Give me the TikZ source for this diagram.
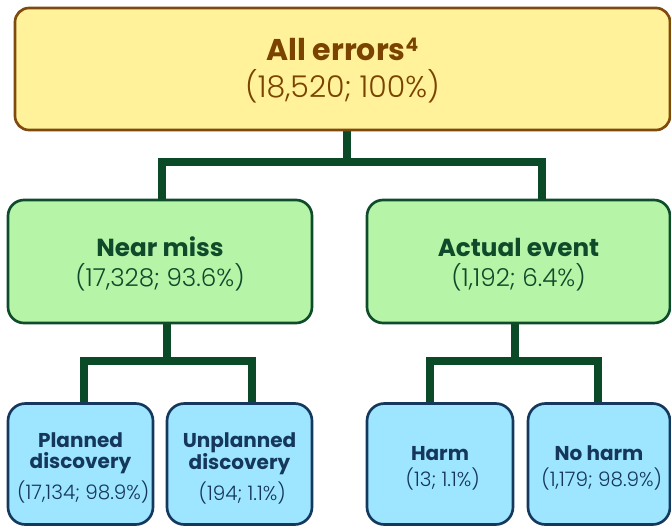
\documentclass[tikz,border=0pt]{standalone}
\usepackage{fontspec}
\setmainfont{Poppins}
\newfontfamily\lightfont{Poppins Light}
\usetikzlibrary{backgrounds}

\definecolor{rootfill}{HTML}{FFF29B}
\definecolor{rootline}{HTML}{7F4A0E}
\definecolor{roottext}{HTML}{7A4300}
\definecolor{midfill}{HTML}{B6F4A8}
\definecolor{midline}{HTML}{0F4C2C}
\definecolor{midtext}{HTML}{0F4A2A}
\definecolor{leaffill}{HTML}{9EE6FF}
\definecolor{leafline}{HTML}{15395E}
\definecolor{leaftext}{HTML}{15375B}
\definecolor{linkcol}{HTML}{0B4A27}

\newcommand\numfont[1]{\lightfont\fontsize{#1}{#1}\selectfont}
% invisible strut that sets the height of a first text line
\newcommand\toprule[1]{\rule{0pt}{#1}}

\tikzset{
  box/.style={draw, line width=2pt, align=center, inner sep=0pt},
  rootbox/.style={box, fill=rootfill, draw=rootline, text=roottext,
    rounded corners=10.5pt, minimum width=491.25pt, minimum height=91.5pt,
    font=\fontsize{22.5}{27.75}\selectfont},
  midbox/.style={box, fill=midfill, draw=midline, text=midtext,
    rounded corners=12pt, minimum width=228pt, minimum height=92.25pt,
    font=\fontsize{18.5}{22.5}\selectfont},
  leafbox/.style={box, fill=leaffill, draw=leafline, text=leaftext,
    rounded corners=13pt, minimum width=108.75pt, minimum height=90.75pt,
    font=\fontsize{15}{15.75}\selectfont},
  link/.style={draw=linkcol, line width=6pt, line join=miter}
}

\begin{document}
\begin{tikzpicture}[x=0.75pt,y=-0.75pt]
\useasboundingbox (0,0) rectangle (671,525);

% boxes
\node[rootbox] (all) at (342.5,69)
  {\toprule{19.6pt}{\bfseries All errors\raisebox{0.55ex}{\fontsize{14}{14}\selectfont 4}}\\{\numfont{22.5}\fontsize{22.5}{27.75}\selectfont (18,520; 100\%)}};

\node[midbox] (near) at (160,261.5)
  {\toprule{18.2pt}{\bfseries Near miss}\\{\lightfont (17,328; 93.6\%)}};
\node[midbox, minimum width=227.25pt] (actual) at (518.5,261.5)
  {\toprule{18.2pt}{\bfseries Actual event}\\{\lightfont (1,192; 6.4\%)}};

\node[leafbox] (planned) at (80.5,464)
  {\toprule{17.1pt}{\bfseries Planned}\\{\bfseries discovery}\\[3.75pt]{\numfont{15} (17,134; 98.9\%)}};
\node[leafbox] (unplanned) at (239.5,464)
  {\toprule{17.1pt}{\bfseries Unplanned}\\{\bfseries discovery}\\[3.75pt]{\numfont{15} (194; 1.1\%)}};
\node[leafbox, minimum width=109.5pt] (harm) at (440,464)
  {\toprule{17.1pt}{\bfseries Harm}\\[3.75pt]{\numfont{15} (13; 1.1\%)}};
\node[leafbox, minimum width=106.5pt] (noharm) at (599,464)
  {\toprule{17.1pt}{\bfseries No harm}\\[3.75pt]{\numfont{15} (1,179; 98.9\%)}};

% joints of the connectors
\coordinate (top) at (347,162);
\coordinate (topl) at (162,162);
\coordinate (topr) at (542,162);
\coordinate (nm) at (167,361);
\coordinate (nml) at (84,361);
\coordinate (nmr) at (252,361);
\coordinate (ae) at (515,361);
\coordinate (ael) at (430,361);
\coordinate (aer) at (598,361);

% connectors, behind the boxes
\begin{scope}[on background layer]
  \draw[link] (all.south -| top) -- (top);
  \draw[link] (near.north -| topl) |- (topr) -- (actual.north -| topr);
  \draw[link] (near.south -| nm) -- (nm);
  \draw[link] (planned.north -| nml) |- (nmr) -- (unplanned.north -| nmr);
  \draw[link] (actual.south -| ae) -- (ae);
  \draw[link] (harm.north -| ael) |- (aer) -- (noharm.north -| aer);
\end{scope}
\end{tikzpicture}
\end{document}
